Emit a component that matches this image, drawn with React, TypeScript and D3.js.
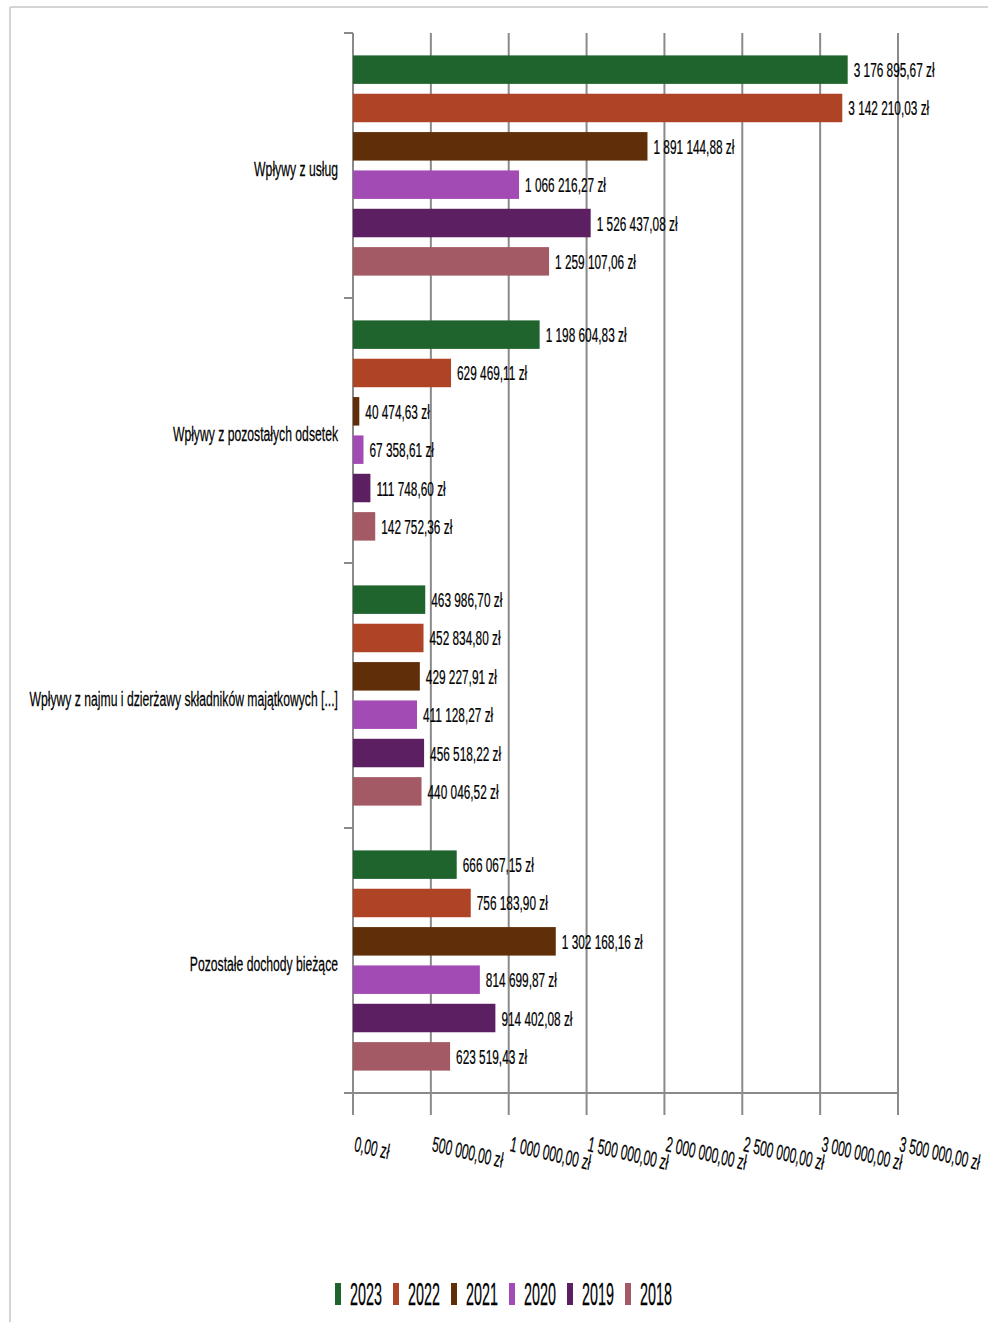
import React from "react";
import * as d3 from "d3";

const categories = [
  "Wpływy z usług",
  "Wpływy z pozostałych odsetek",
  "Wpływy z najmu i dzierżawy składników majątkowych [...]",
  "Pozostałe dochody bieżące",
];
const years = ["2023", "2022", "2021", "2020", "2019", "2018"];
const v2023 = [3176895.67, 1198604.83, 463986.7, 666067.15];
const v2022 = [3142210.03, 629469.11, 452834.8, 756183.9];
const v2021 = [1891144.88, 40474.63, 429227.91, 1302168.16];
const v2020 = [1066216.27, 67358.61, 411128.27, 814699.87];
const v2019 = [1526437.08, 111748.6, 456518.22, 914402.08];
const v2018 = [1259107.06, 142752.36, 440046.52, 623519.43];
const xTicks = [0, 500000, 1000000, 1500000, 2000000, 2500000, 3000000, 3500000];
const colors = ["#1f642d", "#ae4326", "#602e08", "#a34bb4", "#5c2062", "#a45a64"];

const seriesValues = [v2023, v2022, v2021, v2020, v2019, v2018];

const W = 988;
const H = 1322;
const FONT = "'Liberation Sans', Arial, sans-serif";

const locale = d3.formatLocale({
  decimal: ",",
  thousands: "\u00a0",
  grouping: [3],
  currency: ["", " zł"],
});
const fmt = (v: number) => locale.format(",.2f")(v) + " zł";

function SText(props: {
  x: number;
  y: number;
  sx: number;
  size: number;
  anchor?: string;
  rotate?: number;
  italic?: boolean;
  children: React.ReactNode;
}) {
  const { x, y, sx, size, anchor = "start", rotate = 0, italic = false, children } = props;
  return (
    <text
      transform={`translate(${x},${y}) scale(${sx},1) rotate(${rotate})`}
      textAnchor={anchor}
      fontSize={size}
      fontFamily={FONT}
      fontStyle={italic ? "italic" : "normal"}
      fill="#000"
      stroke="#000"
      strokeWidth={0.25}
    >
      {children}
    </text>
  );
}

export default function App() {
  const left = 353;
  const right = 898;
  const top = 33;
  const bottom = 1093;

  const x = d3.scaleLinear().domain([0, 3500000]).range([left, right]);
  const y0 = d3.scaleBand<string>().domain(categories).range([top, bottom]).padding(0);
  const y1 = d3
    .scaleBand<string>()
    .domain(years)
    .range([0, y0.bandwidth()])
    .paddingInner(0.257)
    .paddingOuter(0.584);

  const bounds = [...categories.map((c) => y0(c) as number), bottom];

  const legendX0 = 335;
  const legendStep = 58;

  return (
    <svg
      width={W}
      height={H}
      style={{ position: "absolute", left: 0, top: 0, background: "#fff" }}
    >
      <rect x={0} y={0} width={W} height={H} fill="#fff" />
      {/* frame */}
      <line x1={10} y1={7} x2={W} y2={7} stroke="#d4d4d4" strokeWidth={2} />
      <line x1={10} y1={7} x2={10} y2={H} stroke="#d4d4d4" strokeWidth={2} />

      {/* gridlines / x ticks */}
      {xTicks.map((t) => (
        <line
          key={"g" + t}
          x1={x(t)}
          x2={x(t)}
          y1={top}
          y2={bottom + 22}
          stroke="#8a8a8a"
          strokeWidth={2}
        />
      ))}
      {/* x axis line */}
      <line x1={left} x2={right} y1={bottom} y2={bottom} stroke="#8a8a8a" strokeWidth={2} />
      {/* y category ticks */}
      {bounds.map((b, i) => (
        <line key={"yt" + i} x1={left - 9} x2={left} y1={b} y2={b} stroke="#8a8a8a" strokeWidth={2} />
      ))}

      {/* bars */}
      {categories.map((c, ci) => (
        <g key={c}>
          {years.map((yr, si) => {
            const v = seriesValues[si][ci];
            const by = (y0(c) as number) + (y1(yr) as number);
            const bh = y1.bandwidth();
            return (
              <g key={yr}>
                <rect x={x(0)} y={by} width={x(v) - x(0)} height={bh} fill={colors[si]} />
                <SText x={x(v) + 6} y={by + bh / 2 + 7.5} sx={0.564} size={21}>
                  {fmt(v)}
                </SText>
              </g>
            );
          })}
        </g>
      ))}

      {/* category labels */}
      {categories.map((c) => (
        <SText
          key={"cl" + c}
          x={338}
          y={(y0(c) as number) + y0.bandwidth() / 2 + 10}
          sx={0.58}
          size={21}
          anchor="end"
        >
          {c}
        </SText>
      ))}

      {/* x tick labels */}
      {xTicks.map((t) => (
        <SText key={"xl" + t} x={x(t) + 1} y={1151} sx={0.55} size={21.5} rotate={7.5} italic>
          {fmt(t)}
        </SText>
      ))}

      {/* legend */}
      {years.map((yr, i) => (
        <g key={"lg" + yr}>
          <rect x={legendX0 + i * legendStep} y={1283} width={6} height={22} fill={colors[i]} />
          <SText x={legendX0 + i * legendStep + 15} y={1305} sx={0.47} size={30.5}>
            {yr}
          </SText>
        </g>
      ))}
    </svg>
  );
}
